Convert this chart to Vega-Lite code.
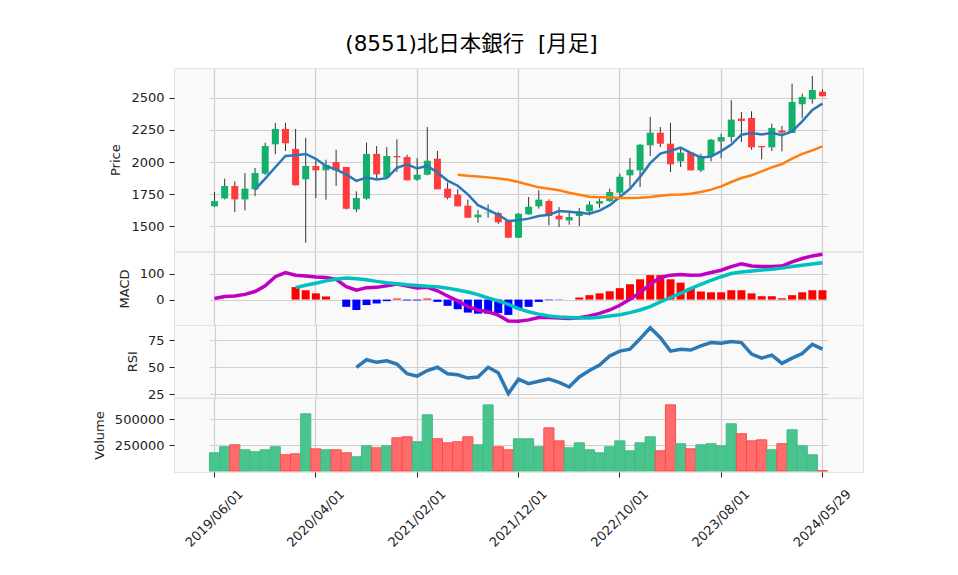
{
  "$schema": "https://vega.github.io/schema/vega-lite/v6.json",
  "padding": {"left": 92, "top": 34, "right": 0, "bottom": 0},
  "background": "white",
  "title": {"text": "(8551)北日本銀行\u00a0\u00a0[月足]", "font": "DejaVu Sans, Noto Sans CJK JP", "fontSize": 21.5, "fontWeight": "normal", "color": "#000000", "anchor": "middle", "frame": "group", "dx": -47, "offset": 12},
  "config": {
    "font": "DejaVu Sans, Noto Sans CJK JP",
    "view": {"fill": "#f9f9f9", "stroke": "#e2e2e2"},
    "axis": {
      "labelFont": "DejaVu Sans", "labelFontSize": 13, "labelColor": "#222222",
      "tickColor": "#222222", "tickSize": 5, "tickWidth": 1, "labelPadding": 5,
      "domain": false, "gridColor": "#cfcfcf", "gridWidth": 1.2,
      "titleFont": "DejaVu Sans", "titleFontSize": 13, "titleFontWeight": "normal", "titleColor": "#222222", "titlePadding": 8,
      "labelOverlap": false, "labelBound": false, "labelFlush": false
    }
  },
  "datasets": {
    "m": [
      {"d":"2019/06/01","o":1654,"h":1766,"l":1650,"c":1695,"v":175000,"macd":4},
      {"d":"2019/07/01","o":1716,"h":1870,"l":1708,"c":1813,"v":233000,"macd":12},
      {"d":"2019/08/01","o":1813,"h":1849,"l":1609,"c":1708,"v":252000,"macd":14},
      {"d":"2019/09/01","o":1708,"h":1914,"l":1622,"c":1792,"v":204000,"macd":20},
      {"d":"2019/10/01","o":1787,"h":1953,"l":1734,"c":1914,"v":185000,"ma5":1784,"macd":31},
      {"d":"2019/11/01","o":1909,"h":2151,"l":1900,"c":2125,"v":204000,"ma5":1870,"macd":53},
      {"d":"2019/12/01","o":2138,"h":2305,"l":2060,"c":2258,"v":233000,"ma5":1959,"macd":88},
      {"d":"2020/01/01","o":2258,"h":2305,"l":2086,"c":2146,"v":156000,"ma5":2047,"macd":104},
      {"d":"2020/02/01","o":2102,"h":2258,"l":1818,"c":1818,"v":165000,"ma5":2052,"macd":94,"sig":46,"hist":48},
      {"d":"2020/03/01","o":1865,"h":2188,"l":1370,"c":1969,"v":550000,"ma5":2063,"macd":91,"sig":55,"hist":36},
      {"d":"2020/04/01","o":1969,"h":2013,"l":1719,"c":1935,"v":213000,"ma5":2025,"macd":87,"sig":63,"hist":24},
      {"d":"2020/05/01","o":1935,"h":2018,"l":1706,"c":1977,"v":204000,"ma5":1969,"macd":85,"sig":72,"hist":12},
      {"d":"2020/06/01","o":2000,"h":2096,"l":1813,"c":1935,"v":204000,"ma5":1940,"macd":78,"sig":78,"hist":0},
      {"d":"2020/07/01","o":1961,"h":1961,"l":1630,"c":1635,"v":175000,"ma5":1903,"macd":50,"sig":83,"hist":-28},
      {"d":"2020/08/01","o":1630,"h":1771,"l":1609,"c":1719,"v":137000,"ma5":1853,"macd":36,"sig":80,"hist":-40,"rsi":50},
      {"d":"2020/09/01","o":1714,"h":2151,"l":1706,"c":2063,"v":242000,"ma5":1879,"macd":46,"sig":76,"hist":-21,"rsi":57},
      {"d":"2020/10/01","o":2063,"h":2125,"l":1870,"c":1904,"v":223000,"ma5":1864,"macd":47,"sig":70,"hist":-15,"rsi":54.6},
      {"d":"2020/11/01","o":1880,"h":2117,"l":1880,"c":2047,"v":242000,"ma5":1874,"macd":53,"sig":65,"hist":-6,"rsi":56},
      {"d":"2020/12/01","o":2047,"h":2177,"l":1922,"c":2037,"v":319000,"ma5":1954,"macd":60,"sig":61,"hist":4,"rsi":53},
      {"d":"2021/01/01","o":2039,"h":2057,"l":1857,"c":1857,"v":329000,"ma5":1982,"macd":52,"sig":57,"hist":-3,"rsi":44},
      {"d":"2021/02/01","o":1862,"h":2031,"l":1852,"c":1901,"v":281000,"ma5":1949,"macd":45,"sig":54,"hist":-3,"rsi":41.8},
      {"d":"2021/03/01","o":1901,"h":2273,"l":1896,"c":2010,"v":540000,"ma5":1970,"macd":47,"sig":51,"hist":4,"rsi":47},
      {"d":"2021/04/01","o":2026,"h":2086,"l":1787,"c":1787,"v":310000,"ma5":1918,"macd":34,"sig":49,"hist":-9,"rsi":50},
      {"d":"2021/05/01","o":1792,"h":1839,"l":1708,"c":1721,"v":271000,"ma5":1855,"macd":14,"sig":44,"hist":-24,"rsi":44},
      {"d":"2021/06/01","o":1745,"h":1787,"l":1654,"c":1654,"v":281000,"ma5":1815,"ma25":1901,"macd":-5,"sig":37,"hist":-37,"rsi":43},
      {"d":"2021/07/01","o":1659,"h":1706,"l":1562,"c":1565,"v":329000,"ma5":1747,"ma25":1893,"macd":-27,"sig":29,"hist":-50,"rsi":40},
      {"d":"2021/08/01","o":1568,"h":1625,"l":1526,"c":1589,"v":252000,"ma5":1663,"ma25":1887,"macd":-40,"sig":19,"hist":-54,"rsi":41},
      {"d":"2021/09/01","o":1600,"h":1669,"l":1565,"c":1604,"v":636000,"ma5":1627,"ma25":1880,"macd":-47,"sig":6,"hist":-54,"rsi":50},
      {"d":"2021/10/01","o":1602,"h":1610,"l":1516,"c":1529,"v":233000,"ma5":1588,"ma25":1872,"macd":-60,"sig":-5,"hist":-52,"rsi":45},
      {"d":"2021/11/01","o":1544,"h":1544,"l":1409,"c":1409,"v":204000,"ma5":1539,"ma25":1862,"macd":-82,"sig":-18,"hist":-59,"rsi":25.6},
      {"d":"2021/12/01","o":1409,"h":1602,"l":1406,"c":1596,"v":310000,"ma5":1545,"ma25":1844,"macd":-83,"sig":-35,"hist":-37,"rsi":39},
      {"d":"2022/01/01","o":1591,"h":1727,"l":1589,"c":1651,"v":310000,"ma5":1558,"ma25":1823,"macd":-78,"sig":-47,"hist":-28,"rsi":34.8},
      {"d":"2022/02/01","o":1654,"h":1779,"l":1636,"c":1706,"v":233000,"ma5":1578,"ma25":1802,"macd":-69,"sig":-56,"hist":-9,"rsi":37},
      {"d":"2022/03/01","o":1695,"h":1708,"l":1505,"c":1578,"v":415000,"ma5":1588,"ma25":1792,"macd":-69,"sig":-63,"hist":-2,"rsi":39},
      {"d":"2022/04/01","o":1581,"h":1648,"l":1492,"c":1552,"v":290000,"ma5":1617,"ma25":1779,"macd":-71,"sig":-67,"hist":-1,"rsi":36},
      {"d":"2022/05/01","o":1544,"h":1604,"l":1510,"c":1570,"v":223000,"ma5":1611,"ma25":1760,"macd":-73,"sig":-69,"hist":0,"rsi":31.7},
      {"d":"2022/06/01","o":1578,"h":1641,"l":1500,"c":1615,"v":271000,"ma5":1604,"ma25":1745,"macd":-70,"sig":-71,"hist":8,"rsi":41},
      {"d":"2022/07/01","o":1615,"h":1693,"l":1583,"c":1667,"v":204000,"ma5":1596,"ma25":1729,"macd":-63,"sig":-71,"hist":17,"rsi":47},
      {"d":"2022/08/01","o":1675,"h":1714,"l":1643,"c":1695,"v":175000,"ma5":1620,"ma25":1724,"macd":-53,"sig":-68,"hist":24,"rsi":52},
      {"d":"2022/09/01","o":1695,"h":1792,"l":1688,"c":1766,"v":233000,"ma5":1663,"ma25":1724,"macd":-40,"sig":-63,"hist":32,"rsi":60.6},
      {"d":"2022/10/01","o":1760,"h":1909,"l":1740,"c":1885,"v":290000,"ma5":1726,"ma25":1719,"macd":-22,"sig":-58,"hist":44,"rsi":65},
      {"d":"2022/11/01","o":1896,"h":2031,"l":1807,"c":1940,"v":194000,"ma5":1791,"ma25":1719,"macd":1,"sig":-50,"hist":59,"rsi":66.8},
      {"d":"2022/12/01","o":1935,"h":2140,"l":1805,"c":2135,"v":271000,"ma5":1884,"ma25":1721,"macd":27,"sig":-40,"hist":78,"rsi":76.5},
      {"d":"2023/01/01","o":2130,"h":2352,"l":2047,"c":2229,"v":329000,"ma5":1991,"ma25":1727,"macd":59,"sig":-27,"hist":94,"rsi":86.6},
      {"d":"2023/02/01","o":2229,"h":2273,"l":2117,"c":2143,"v":194000,"ma5":2066,"ma25":1737,"macd":85,"sig":-9,"hist":94,"rsi":77.4},
      {"d":"2023/03/01","o":2143,"h":2307,"l":1922,"c":1982,"v":636000,"ma5":2086,"ma25":1745,"macd":94,"sig":8,"hist":78,"rsi":65},
      {"d":"2023/04/01","o":2005,"h":2104,"l":1961,"c":2073,"v":262000,"ma5":2112,"ma25":1747,"macd":96,"sig":24,"hist":65,"rsi":66.8},
      {"d":"2023/05/01","o":2073,"h":2078,"l":1935,"c":1935,"v":213000,"ma5":2072,"ma25":1753,"macd":94,"sig":42,"hist":44,"rsi":66},
      {"d":"2023/06/01","o":1935,"h":2065,"l":1922,"c":2047,"v":252000,"ma5":2036,"ma25":1766,"macd":95,"sig":59,"hist":31,"rsi":69.8},
      {"d":"2023/07/01","o":2047,"h":2180,"l":2005,"c":2174,"v":262000,"ma5":2042,"ma25":1784,"macd":104,"sig":74,"hist":28,"rsi":72.9},
      {"d":"2023/08/01","o":2161,"h":2221,"l":2031,"c":2195,"v":242000,"ma5":2085,"ma25":1810,"macd":113,"sig":88,"hist":28,"rsi":72.3},
      {"d":"2023/09/01","o":2195,"h":2482,"l":2156,"c":2331,"v":454000,"ma5":2136,"ma25":1844,"macd":127,"sig":100,"hist":36,"rsi":73.8},
      {"d":"2023/10/01","o":2339,"h":2391,"l":2156,"c":2320,"v":358000,"ma5":2213,"ma25":1875,"macd":138,"sig":106,"hist":36,"rsi":72.9},
      {"d":"2023/11/01","o":2344,"h":2396,"l":2096,"c":2115,"v":290000,"ma5":2227,"ma25":1896,"macd":129,"sig":110,"hist":24,"rsi":62.2},
      {"d":"2023/12/01","o":2125,"h":2125,"l":2021,"c":2115,"v":300000,"ma5":2215,"ma25":1927,"macd":127,"sig":114,"hist":13,"rsi":58.5},
      {"d":"2024/01/01","o":2115,"h":2299,"l":2086,"c":2266,"v":204000,"ma5":2229,"ma25":1958,"macd":127,"sig":117,"hist":13,"rsi":61.3},
      {"d":"2024/02/01","o":2245,"h":2281,"l":2083,"c":2229,"v":262000,"ma5":2209,"ma25":1984,"macd":129,"sig":121,"hist":5,"rsi":53.6},
      {"d":"2024/03/01","o":2227,"h":2612,"l":2227,"c":2469,"v":396000,"ma5":2239,"ma25":2026,"macd":145,"sig":127,"hist":17,"rsi":58.5},
      {"d":"2024/04/01","o":2451,"h":2534,"l":2344,"c":2508,"v":242000,"ma5":2317,"ma25":2063,"macd":158,"sig":132,"hist":28,"rsi":62.8},
      {"d":"2024/05/01","o":2490,"h":2672,"l":2456,"c":2562,"v":156000,"ma5":2407,"ma25":2091,"macd":168,"sig":137,"hist":36,"rsi":71.3},
      {"d":"2024/05/29","o":2549,"h":2568,"l":2513,"c":2513,"v":2000,"ma5":2456,"ma25":2122,"macd":174,"sig":142,"hist":36,"rsi":66.8}
    ]
  },
  "data": {"name": "m"},
  "spacing": 0,
  "bounds": "flush",
  "vconcat": [
    {
      "width": 689, "height": 183.4,
      "encoding": {
        "x": {"field": "d", "type": "ordinal", "scale": {"paddingInner": 0, "paddingOuter": 0, "range": [35.46, 653.54]},
              "axis": {"values": ["2019/06/01","2020/04/01","2021/02/01","2021/12/01","2022/10/01","2023/08/01","2024/05/29"], "labels": false, "ticks": false, "title": null, "grid": true}}
      },
      "layer": [
        {"mark": {"type": "rule", "color": "#333333", "strokeWidth": 1},
         "encoding": {"y": {"field": "l", "type": "quantitative", "scale": {"domain": [1302, 2734], "nice": false, "zero": false}, "axis": {"values": [1500, 1750, 2000, 2250, 2500], "format": "d", "title": "Price"}}, "y2": {"field": "h"}}},
        {"mark": {"type": "bar", "size": 7},
         "encoding": {"y": {"field": "o", "type": "quantitative", "axis": {"title": "Price", "format": "d"}}, "y2": {"field": "c"},
                      "color": {"condition": {"test": "datum.c >= datum.o", "value": "#13b06c"}, "value": "#ff3b3b"}}},
        {"mark": {"type": "line", "color": "#2a78b5", "strokeWidth": 2.5},
         "encoding": {"y": {"field": "ma5", "type": "quantitative", "axis": {"title": "Price", "format": "d"}}}},
        {"mark": {"type": "line", "color": "#ff7f0e", "strokeWidth": 2.5},
         "encoding": {"y": {"field": "ma25", "type": "quantitative", "axis": {"title": "Price", "format": "d"}}}}
      ]
    },
    {
      "width": 689, "height": 73,
      "encoding": {
        "x": {"field": "d", "type": "ordinal", "scale": {"paddingInner": 0, "paddingOuter": 0, "range": [35.46, 653.54]},
              "axis": {"values": ["2019/06/01","2020/04/01","2021/02/01","2021/12/01","2022/10/01","2023/08/01","2024/05/29"], "labels": false, "ticks": false, "title": null, "grid": true}}
      },
      "layer": [
        {"mark": {"type": "bar", "size": 8},
         "encoding": {"y": {"field": "hist", "type": "quantitative", "scale": {"domain": [-97.7, 183], "nice": false, "zero": false}, "axis": {"values": [0, 100], "title": "MACD"}}, "y2": {"datum": 0},
                      "color": {"condition": {"test": "datum.hist >= 0", "value": "#ff0000"}, "value": "#0000ff"}}},
        {"mark": {"type": "line", "color": "#c000c0", "strokeWidth": 3.5},
         "encoding": {"y": {"field": "macd", "type": "quantitative", "axis": {"title": "MACD"}}}},
        {"mark": {"type": "line", "color": "#00c0c0", "strokeWidth": 3.5},
         "encoding": {"y": {"field": "sig", "type": "quantitative", "axis": {"title": "MACD"}}}}
      ]
    },
    {
      "width": 689, "height": 72.6,
      "mark": {"type": "line", "color": "#2a78b5", "strokeWidth": 3.5},
      "encoding": {
        "x": {"field": "d", "type": "ordinal", "scale": {"paddingInner": 0, "paddingOuter": 0, "range": [35.46, 653.54]},
              "axis": {"values": ["2019/06/01","2020/04/01","2021/02/01","2021/12/01","2022/10/01","2023/08/01","2024/05/29"], "labels": false, "ticks": false, "title": null, "grid": true}},
        "y": {"field": "rsi", "type": "quantitative", "scale": {"domain": [21.9, 89.2], "nice": false, "zero": false}, "axis": {"values": [25, 50, 75], "title": "RSI"}}
      }
    },
    {
      "width": 689, "height": 74,
      "mark": {"type": "bar", "strokeWidth": 1},
      "encoding": {
        "x": {"field": "d", "type": "ordinal", "scale": {"paddingInner": 0, "paddingOuter": 0, "range": [35.46, 653.54]},
              "axis": {"values": ["2019/06/01","2020/04/01","2021/02/01","2021/12/01","2022/10/01","2023/08/01","2024/05/29"], "title": null, "grid": true, "labelAngle": -45, "labelAlign": "center", "labelBaseline": "middle", "labelPadding": 41, "tickSize": 5}},
        "y": {"field": "v", "type": "quantitative", "scale": {"domain": [-9600, 702000], "nice": false, "zero": false}, "axis": {"values": [250000, 500000], "format": "d", "title": "Volume"}},
        "y2": {"datum": 0},
        "fill": {"condition": {"test": "datum.c >= datum.o", "value": "#4ac48d"}, "value": "#ff6b6b"},
        "stroke": {"condition": {"test": "datum.c >= datum.o", "value": "#3fbd85"}, "value": "#ff4a4a"}
      }
    }
  ]
}
